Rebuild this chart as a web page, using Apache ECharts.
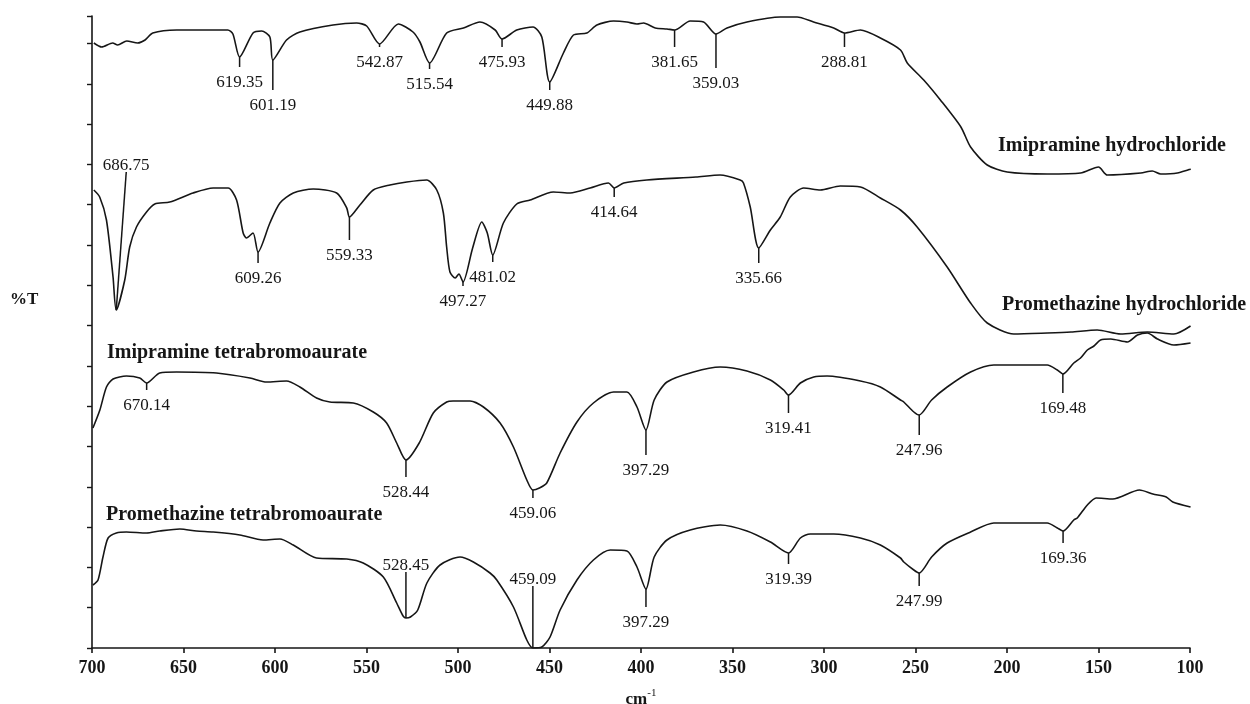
<!DOCTYPE html>
<html><head><meta charset="utf-8">
<script src="https://cdn.jsdelivr.net/npm/echarts/dist/echarts.min.js"></script>
<style>html,body{margin:0;padding:0;background:#fff}#c{width:1250px;height:704px}</style>
</head><body><div id="c"></div>
<script>
// ---- data: [wavenumber cm-1, %T (arbitrary offset units)] ----
const imiHcl = [[699,605],[694.7,601],[688.7,605],[686,603],[681,607],[675,605],[671,608],[666.8,615],[653.7,618],[625.8,618],[623,614],[619.35,591],[612,615],[607.3,617],[602.8,611],[601.19,588],[593.7,608],[586.4,616],[568.3,623],[555.4,625],[549.9,622],[542.87,604],[532.6,624],[524.6,616],[520.8,606],[515.54,585],[506.2,615],[497,620],[488,626],[479.7,618],[475.93,609],[467.9,618],[459,621],[454.2,611],[449.88,566],[442.4,595],[436.9,613],[429.6,615],[424.1,623],[415,627],[407.7,626],[402.2,624],[398.6,625],[392.2,620],[385.8,619],[381.65,618],[373.1,627],[365.8,626],[359.03,614],[353,620],[342.1,626],[323.9,631],[314.7,631],[305.7,626],[294.7,620],[288.81,615],[280.1,618],[269.2,610],[258.2,598],[254.5,585],[245.5,568],[236.4,548],[225.2,521],[219.9,501],[210.8,483],[199.9,476],[178,474],[159.8,475],[150,481],[145.2,473],[126.9,475],[120.6,477],[116,474],[106.9,475],[99.6,479]];
const proHcl = [[699,458],[695.8,451],[692.1,428],[688.5,371],[686.75,338],[682.1,368],[679.4,401],[675.7,421],[670.2,436],[665.7,444],[657.5,446],[644.8,455],[633.8,460],[625.6,460],[621,448],[617.4,415],[615.6,410],[612,415],[609.26,396],[602.8,425],[597.3,445],[590,455],[579.1,459],[566.3,455],[560.8,440],[559.33,431],[553.6,443],[546.3,458],[537.2,463],[528,466],[517.1,468],[511.6,458],[508,435],[506.2,401],[504.4,376],[501.5,370],[499.5,374],[497.27,366],[492,400],[487,426],[484,415],[481.02,393],[475.2,425],[467.9,444],[460.6,448],[447.9,456],[438.7,455],[427.8,460],[417.8,465],[414.64,460],[409.4,465],[396.8,468],[370,471],[356.8,473],[345.8,468],[344,465],[340.3,441],[335.66,400],[329.3,418],[323.9,431],[318.4,451],[311.1,460],[302,458],[291.1,462],[280.1,461],[269.2,450],[258.2,438],[249.1,421],[232.7,381],[219.9,345],[210.8,325],[196.3,314],[178,315],[165,316],[150.7,318],[137.9,314],[123.3,316],[108.8,314],[99.7,322]];
const imiAu = [[699.5,220],[695.7,238],[692.1,261],[688.5,269],[681.2,272],[673.9,270],[670.14,265],[663,275],[653.8,276],[632,275],[613.7,270],[604.6,266],[593.7,267],[586.4,261],[577.3,250],[570,246],[557.2,245],[546.3,236],[539,225],[533.5,205],[528.44,188],[521.2,205],[513.5,235],[506.2,246],[502.7,247],[493.4,247],[486.1,241],[477,225],[469.7,201],[462.4,168],[459.06,158],[455.5,160],[451.5,165],[444.2,195],[435,226],[426,245],[415,256],[407.7,256],[402.2,241],[397.29,218],[392.8,248],[385.8,266],[371.3,276],[356.7,281],[342.1,277],[329.3,268],[322,258],[319.41,253],[312.9,265],[305.6,271],[298.3,272],[280.1,267],[269.2,261],[258.2,248],[256.4,246],[250.9,236],[247.96,233],[241.2,248],[232.7,261],[219.9,276],[207.2,283],[192.6,283],[178,283],[172.5,278],[169.48,274],[163.5,285],[159.8,290],[156.1,298],[152.5,302],[148.9,308],[143.3,309],[134.2,306],[128.7,313],[123.3,315],[117.8,309],[108.8,303],[99.7,305]];
const proAu = [[699.5,63],[696.7,68],[694,91],[691.2,110],[686.7,115],[681.2,116],[670.2,115],[663,117],[652,119],[642.9,117],[633.8,116],[619.2,113],[606.5,108],[597.3,109],[590,103],[577.3,90],[560.8,89],[551.8,85],[540.8,71],[533.5,45],[530,32],[528.45,30],[526,31],[522,38],[517,65],[509.8,83],[498.9,91],[491.6,86],[482.5,75],[478.8,68],[469.7,41],[462.4,8],[459.09,0],[454.2,1],[449.7,11],[444.2,38],[435,68],[426,88],[416.8,98],[407.7,97],[402.2,81],[397.29,59],[392.8,91],[385.8,108],[373.1,118],[356.7,123],[342.1,117],[329.3,106],[319.39,95],[312.9,110],[307.5,114],[294.7,114],[280.1,110],[269.2,103],[258.2,90],[256.4,86],[250.9,78],[247.99,75],[241.2,91],[232.7,105],[219.9,116],[207.2,125],[196.3,125],[178,125],[172.5,120],[169.36,117],[163.5,128],[161.6,130],[156.1,143],[151.3,150],[142.2,149],[127.6,158],[120.3,154],[113,151],[109.4,146],[99.7,141]];

// peak wavenumbers (labels)
const imiHclPeaks = [619.35,601.19,542.87,515.54,475.93,449.88,381.65,359.03,288.81];
const proHclPeaks = [686.75,609.26,559.33,497.27,481.02,414.64,335.66];
const imiAuPeaks  = [670.14,528.44,459.06,397.29,319.41,247.96,169.48];
const proAuPeaks  = [528.45,459.09,397.29,319.39,247.99,169.36];

const seriesNames = ['Imipramine hydrochloride','Promethazine hydrochloride','Imipramine tetrabromoaurate','Promethazine tetrabromoaurate'];

// ---- layout (leader length px, optional dx px) ----
const imiHclLeader = [[10],[30],[3],[6],[8],[8],[17],[34],[14]];
const proHclLeader = [[-138,10],[11],[23],[4],[7],[9],[15]];
const imiAuLeader  = [[7],[17],[8],[25],[18],[20],[19]];
const proAuLeader  = [[-46],[-62],[18],[11],[13],[12]];

const FONT = '"Liberation Serif","Times New Roman",serif';
const INK = '#161616';

function lineSeries(name, data){
  return {type:'line', name, data, showSymbol:false, symbol:'none', smooth:0.25,
    lineStyle:{color:INK, width:1.6}, itemStyle:{color:INK}, z:3, silent:true};
}
function peakSeries(trace, peaks, layout){
  const data = peaks.map((wn,i)=>{
    const pt = trace.find(p=>p[0]===wn);
    const lay = layout[i];
    return [wn, pt[1], lay[0], lay[1]||0];
  });
  return {type:'custom', clip:false, silent:true, z:5, data,
    encode:{x:0,y:1},
    renderItem(params, api){
      const wn=api.value(0), v=api.value(1), len=api.value(2), dx=api.value(3);
      const p = api.coord([wn,v]);
      const ex=p[0]+dx, ey=p[1]+len;
      const ly = len>=0 ? ey+16 : ey-6;
      return {type:'group', children:[
        {type:'line', shape:{x1:p[0],y1:p[1],x2:ex,y2:ey}, style:{stroke:INK,lineWidth:1.5}},
        {type:'text', style:{text:wn.toFixed(2), x:ex, y:ly, font:'17px '+FONT, fill:INK,
          align:'center', verticalAlign:'middle', textAlign:'center', textVerticalAlign:'middle'}}
      ]};
    }};
}

const chart = echarts.init(document.getElementById('c'), null, {renderer:'canvas'});
chart.setOption({
  animation:false,
  backgroundColor:'#fff',
  grid:{left:92, right:60, top:16, bottom:56, containLabel:false, outerBoundsMode:'none'},
  xAxis:{type:'value', inverse:true, min:100, max:700, interval:50,
    axisLine:{lineStyle:{color:INK,width:1.6}},
    axisTick:{show:true, inside:false, length:5, lineStyle:{color:INK,width:1.6}},
    axisLabel:{color:INK, fontFamily:FONT, fontWeight:'bold', fontSize:18, margin:11},
    splitLine:{show:false},
    name:'{a|cm}{b|-1}', nameLocation:'middle', nameGap:40,
    nameTextStyle:{rich:{a:{fontFamily:FONT,fontSize:17,color:INK,fontWeight:'bold'},
      b:{fontFamily:FONT,fontSize:11,color:INK,padding:[0,0,12,0]}}}
  },
  yAxis:{type:'value', min:0, max:632, interval:40.3,
    axisLine:{show:true, lineStyle:{color:INK,width:1.6}},
    axisTick:{show:true, inside:false, length:5, lineStyle:{color:INK,width:1.4}},
    axisLabel:{show:false}, splitLine:{show:false}},
  graphic:[
    {type:'text', x:10, y:300, style:{text:'%T', font:'bold 17px '+FONT, fill:INK, textVerticalAlign:'middle', verticalAlign:'middle'}},
    {type:'text', x:998, y:146, style:{text:seriesNames[0], font:'bold 20px '+FONT, fill:INK, textVerticalAlign:'middle', verticalAlign:'middle'}},
    {type:'text', x:1002, y:305, style:{text:seriesNames[1], font:'bold 20px '+FONT, fill:INK, textVerticalAlign:'middle', verticalAlign:'middle'}},
    {type:'text', x:107, y:353, style:{text:seriesNames[2], font:'bold 20px '+FONT, fill:INK, textVerticalAlign:'middle', verticalAlign:'middle'}},
    {type:'text', x:106, y:515, style:{text:seriesNames[3], font:'bold 20px '+FONT, fill:INK, textVerticalAlign:'middle', verticalAlign:'middle'}}
  ],
  series:[
    lineSeries(seriesNames[0], imiHcl),
    lineSeries(seriesNames[1], proHcl),
    lineSeries(seriesNames[2], imiAu),
    lineSeries(seriesNames[3], proAu),
    peakSeries(imiHcl, imiHclPeaks, imiHclLeader),
    peakSeries(proHcl, proHclPeaks, proHclLeader),
    peakSeries(imiAu, imiAuPeaks, imiAuLeader),
    peakSeries(proAu, proAuPeaks, proAuLeader)
  ]
});
</script></body></html>
